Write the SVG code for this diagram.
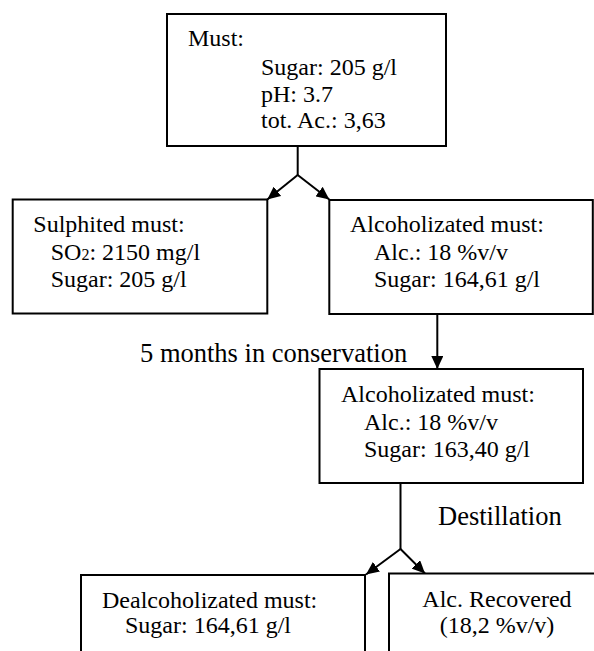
<svg xmlns="http://www.w3.org/2000/svg" width="594" height="651" viewBox="0 0 594 651">
<style>
.box{fill:#fff;stroke:#000;stroke-width:2}
.t{font-family:"Liberation Serif","Times New Roman",serif;font-size:24px;fill:#000}
.lbl{font-family:"Liberation Serif","Times New Roman",serif;font-size:26.5px;fill:#000}
.c{fill:none;stroke:#000;stroke-width:2}
</style>
<defs>
<marker id="ah" markerUnits="userSpaceOnUse" markerWidth="14" markerHeight="12" refX="13" refY="6" orient="auto">
<path d="M0,0 L13,6 L0,12 z" fill="#000"/>
</marker>
</defs>
<rect width="594" height="651" fill="#fff"/>
<g id="connectors">
<path class="c" d="M297.7,146 V175"/>
<line class="c" x1="297.7" y1="175" x2="267.3" y2="199.5" marker-end="url(#ah)"/>
<line class="c" x1="297.7" y1="175" x2="329.3" y2="199.5" marker-end="url(#ah)"/>
<line class="c" x1="437.3" y1="314" x2="437.3" y2="369" marker-end="url(#ah)"/>
<path class="c" d="M400.5,483 V549"/>
<line class="c" x1="400.5" y1="549" x2="366" y2="574.5" marker-end="url(#ah)"/>
<line class="c" x1="400.5" y1="549" x2="425" y2="573.5" marker-end="url(#ah)"/>
<text class="lbl" x="140" y="362">5 months in conservation</text>
<text class="lbl" x="438" y="525">Destillation</text>
</g>
<g id="must">
<rect class="box" x="167" y="14" width="279" height="132"/>
<text class="t" x="188" y="46">Must:</text>
<text class="t" x="261" y="75">Sugar: 205 g/l</text>
<text class="t" x="261" y="102">pH: 3.7</text>
<text class="t" x="261" y="128">tot. Ac.: 3,63</text>
</g>
<g id="sulphited">
<rect class="box" x="12.7" y="199.5" width="254.6" height="114"/>
<text class="t" x="33.3" y="232">Sulphited must:</text>
<text class="t" x="50.7" y="260">SO<tspan font-size="16">2</tspan>: 2150 mg/l</text>
<text class="t" x="50.7" y="287">Sugar: 205 g/l</text>
</g>
<g id="alcoholized1">
<rect class="box" x="329.3" y="200" width="263.5" height="114"/>
<text class="t" x="350" y="232">Alcoholizated must:</text>
<text class="t" x="374" y="260">Alc.: 18 %v/v</text>
<text class="t" x="374" y="287">Sugar: 164,61 g/l</text>
</g>
<g id="alcoholized2">
<rect class="box" x="319.5" y="369" width="263.5" height="114"/>
<text class="t" x="341" y="402">Alcoholizated must:</text>
<text class="t" x="364" y="430">Alc.: 18 %v/v</text>
<text class="t" x="364" y="457">Sugar: 163,40 g/l</text>
</g>
<g id="dealcoholized">
<rect class="box" x="81" y="575" width="284" height="100"/>
<text class="t" x="102" y="608">Dealcoholizated must:</text>
<text class="t" x="125" y="633">Sugar: 164,61 g/l</text>
</g>
<g id="recovered">
<rect class="box" x="389" y="573.5" width="220" height="100"/>
<text class="t" x="497" y="607" text-anchor="middle">Alc. Recovered</text>
<text class="t" x="497" y="633" text-anchor="middle">(18,2 %v/v)</text>
</g>
</svg>
